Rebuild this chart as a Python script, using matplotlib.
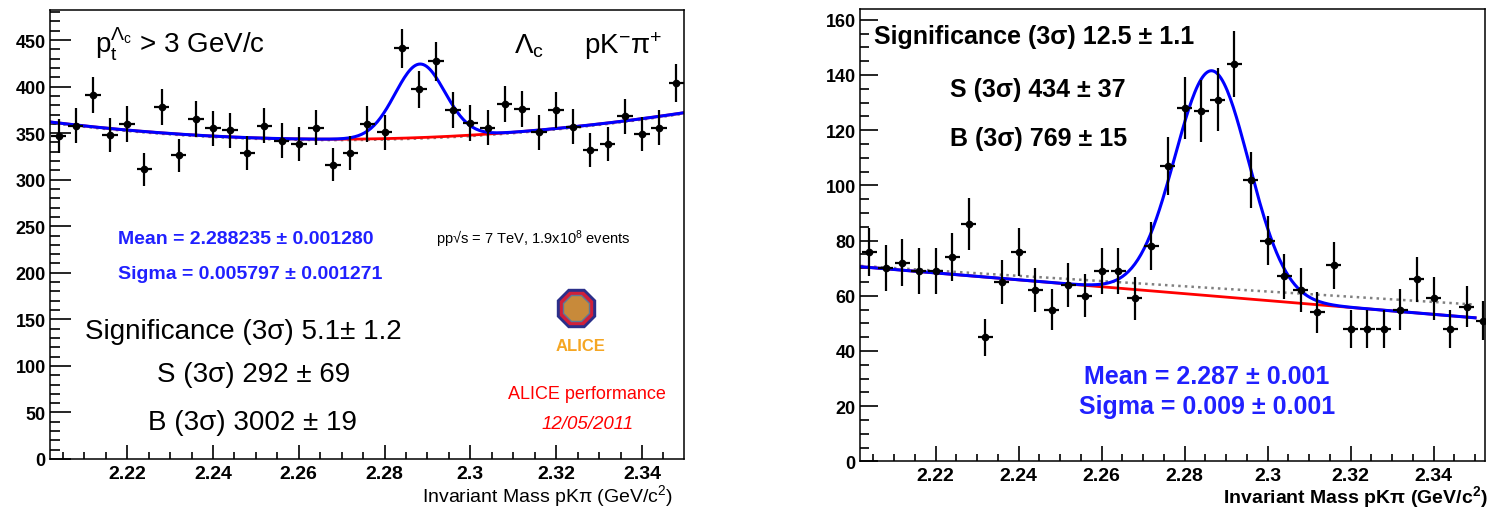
import numpy as np
import matplotlib.pyplot as plt
from matplotlib.ticker import MultipleLocator

plt.rcParams['font.family'] = ['Liberation Sans', 'DejaVu Sans']
plt.rcParams['mathtext.fontset'] = 'custom'
plt.rcParams['mathtext.rm'] = 'Liberation Sans'
plt.rcParams['mathtext.it'] = 'Liberation Sans:italic'
plt.rcParams['mathtext.bf'] = 'Liberation Sans:bold'

# left panel: pt > 3 GeV/c, bins of 4 MeV
mass_l = [2.204, 2.208, 2.212, 2.216, 2.220, 2.224, 2.228, 2.232, 2.236, 2.240,
          2.244, 2.248, 2.252, 2.256, 2.260, 2.264, 2.268, 2.272, 2.276, 2.280,
          2.284, 2.288, 2.292, 2.296, 2.300, 2.304, 2.308, 2.312, 2.316, 2.320,
          2.324, 2.328, 2.332, 2.336, 2.340, 2.344, 2.348]
counts_l = [347, 358, 391, 348, 360, 311, 378, 326, 365, 355,
            353, 329, 358, 342, 338, 356, 316, 329, 360, 351,
            441, 397, 427, 375, 361, 356, 381, 376, 351, 375,
            357, 332, 338, 368, 349, 356, 404]

# right panel
mass_r = [2.204, 2.208, 2.212, 2.216, 2.220, 2.224, 2.228, 2.232, 2.236, 2.240,
          2.244, 2.248, 2.252, 2.256, 2.260, 2.264, 2.268, 2.272, 2.276, 2.280,
          2.284, 2.288, 2.292, 2.296, 2.300, 2.304, 2.308, 2.312, 2.316, 2.320,
          2.324, 2.328, 2.332, 2.336, 2.340, 2.344, 2.348, 2.352]
counts_r = [76, 70, 72, 69, 69, 74, 86, 45, 65, 76,
            62, 55, 64, 60, 69, 69, 59, 78, 107, 128,
            127, 131, 144, 102, 80, 67, 62, 54, 71, 48,
            48, 48, 55, 66, 59, 48, 56, 51]

# fit parameters (gauss + background)
mean_l, sigma_l, amp_l = 2.288235, 0.005797, 79.0
bkg_l = (2.268, 343.5, 4250.0)          # x0, minimum, curvature
mean_r, sigma_r, amp_r = 2.2866, 0.0089, 81.6
bkg_r = (2.202, 70.5, -125.0)            # x0, value, slope
side_r = (2.202, 70.8, -94.6)            # sideband-only fit

xticks = [2.22, 2.24, 2.26, 2.28, 2.30, 2.32, 2.34]
xticklabels = ['2.22', '2.24', '2.26', '2.28', '2.3', '2.32', '2.34']


def bkg_quad(x, p):
    return p[1] + p[2] * (x - p[0]) ** 2


def bkg_lin(x, p):
    return p[1] + p[2] * (x - p[0])


def gauss(x, a, m, s):
    return a * np.exp(-0.5 * ((x - m) / s) ** 2)


def style_axis(ax, ymaj, ymin, ylen, xlen):
    ax.set_xticks(xticks)
    ax.set_xticklabels(xticklabels)
    ax.xaxis.set_minor_locator(MultipleLocator(0.005))
    ax.yaxis.set_major_locator(MultipleLocator(ymaj))
    ax.yaxis.set_minor_locator(MultipleLocator(ymin))
    ax.tick_params(which='both', direction='in', top=False, right=False, width=1.2, colors='black')
    ax.tick_params(axis='y', which='major', length=ylen, pad=3)
    ax.tick_params(axis='y', which='minor', length=ylen / 2)
    ax.tick_params(axis='x', which='major', length=xlen, pad=4)
    ax.tick_params(axis='x', which='minor', length=xlen / 2)
    for lab in ax.get_xticklabels():
        lab.set_fontweight('bold')
        lab.set_fontsize(14)
    for lab in ax.get_yticklabels():
        lab.set_fontweight('bold')
        lab.set_fontsize(13)
    for sp in ax.spines.values():
        sp.set_linewidth(1.1)


fig = plt.figure(figsize=(14.94, 5.10), dpi=100)
axL = fig.add_axes([50 / 1494, 50 / 510, 634 / 1494, 449.3 / 510])
axR = fig.add_axes([860 / 1494, 47.7 / 510, 625 / 1494, 452.3 / 510])

# ---- left panel
xs = np.linspace(2.202, 2.3498, 400)
b = bkg_quad(xs, bkg_l)
axL.plot(xs, b - 1, color='grey', ls=':', lw=1.8)
axL.plot(xs, b, color='red', lw=2)
axL.plot(xs, b + gauss(xs, amp_l, mean_l, sigma_l), color='#0000ff', lw=2.2)
axL.errorbar(mass_l, counts_l, yerr=np.sqrt(counts_l), xerr=0.0018, fmt='o',
             color='black', ms=4.5, elinewidth=1.6, capsize=0, zorder=5)
axL.set_xlim(2.202, 2.3498)
axL.set_ylim(0, 482.6)
style_axis(axL, 50, 10, 15, 10)

axL.text(0.071, 0.904, r'$\mathrm{p}_{\mathrm{t}}^{\Lambda_{\mathrm{c}}}$ > 3 GeV/c',
         transform=axL.transAxes, fontsize=20, va='baseline')
axL.text(0.732, 0.904, r'$\Lambda_{\mathrm{c}}$', transform=axL.transAxes, fontsize=20, va='baseline')
axL.text(0.842, 0.904, r'pK$^{-}$π$^{+}$', transform=axL.transAxes, fontsize=20, va='baseline')
axL.text(0.108, 0.49, 'Mean = 2.288235 ± 0.001280', transform=axL.transAxes,
         fontsize=14, fontweight='bold', color='#2020ff', va='center')
axL.text(0.108, 0.412, 'Sigma = 0.005797 ± 0.001271', transform=axL.transAxes,
         fontsize=14, fontweight='bold', color='#2020ff', va='center')
axL.text(0.609, 0.492, 'pp√s = 7 TeV, 1.9x10$^{8}$ events', transform=axL.transAxes,
         fontsize=10.5, va='center')
axL.text(0.055, 0.285, 'Significance (3σ) 5.1± 1.2', transform=axL.transAxes, fontsize=20, va='center')
axL.text(0.169, 0.189, 'S (3σ) 292 ± 69', transform=axL.transAxes, fontsize=20, va='center')
axL.text(0.155, 0.082, 'B (3σ) 3002 ± 19', transform=axL.transAxes, fontsize=20, va='center')

# ALICE logo (rough)
axL.plot([0.830], [0.336], marker='8', ms=30, mfc='#2b2f8a', mec='#2b2f8a', transform=axL.transAxes)
axL.plot([0.830], [0.336], marker='8', ms=25, mfc='#d0203a', mec='#d0203a', transform=axL.transAxes)
axL.plot([0.830], [0.336], marker='8', ms=20, mfc='#c88a3a', mec='#5a7a9a', transform=axL.transAxes)
axL.text(0.836, 0.252, 'ALICE', transform=axL.transAxes, fontsize=12, fontweight='bold',
         color='#f5a623', ha='center', va='center')
axL.text(0.847, 0.145, 'ALICE performance', transform=axL.transAxes, fontsize=13,
         color='red', ha='center', va='center')
axL.text(0.848, 0.078, '12/05/2011', transform=axL.transAxes, fontsize=13.5,
         color='red', style='italic', ha='center', va='center')
axL.text(0.983, -0.0935, 'Invariant Mass pKπ (GeV/c$^{2}$)', transform=axL.transAxes,
         fontsize=14, ha='right', va='baseline')

# ---- right panel
xs = np.linspace(2.202, 2.35, 400)
b = bkg_lin(xs, bkg_r)
axR.plot(xs, bkg_lin(xs, side_r), color='grey', ls=':', lw=1.8)
axR.plot(xs, b, color='red', lw=2)
axR.plot(xs, b + gauss(xs, amp_r, mean_r, sigma_r), color='#0000ff', lw=2.2)
axR.errorbar(mass_r, counts_r, yerr=np.sqrt(counts_r), xerr=0.0018, fmt='o',
             color='black', ms=4.5, elinewidth=1.6, capsize=0, zorder=5)
axR.set_xlim(2.2018, 2.3524)
axR.set_ylim(0, 163.9)
style_axis(axR, 20, 5, 13, 10.8)

axR.text(0.0224, 0.940, 'Significance (3σ) 12.5 ± 1.1', transform=axR.transAxes,
         fontsize=18, fontweight='bold', va='center')
axR.text(0.144, 0.823, 'S (3σ) 434 ± 37', transform=axR.transAxes, fontsize=18,
         fontweight='bold', va='center')
axR.text(0.144, 0.715, 'B (3σ) 769 ± 15', transform=axR.transAxes, fontsize=18,
         fontweight='bold', va='center')
axR.text(0.555, 0.189, 'Mean = 2.287 ± 0.001', transform=axR.transAxes, fontsize=18,
         fontweight='bold', color='#2020ff', ha='center', va='center')
axR.text(0.555, 0.123, 'Sigma = 0.009 ± 0.001', transform=axR.transAxes, fontsize=18,
         fontweight='bold', color='#2020ff', ha='center', va='center')
axR.text(1.005, -0.0895, r'Invariant Mass pKπ (GeV/c$^{\mathbf{2}}$)', transform=axR.transAxes,
         fontsize=14, fontweight='bold', ha='right', va='baseline')

fig.savefig('out.png', dpi=100)
